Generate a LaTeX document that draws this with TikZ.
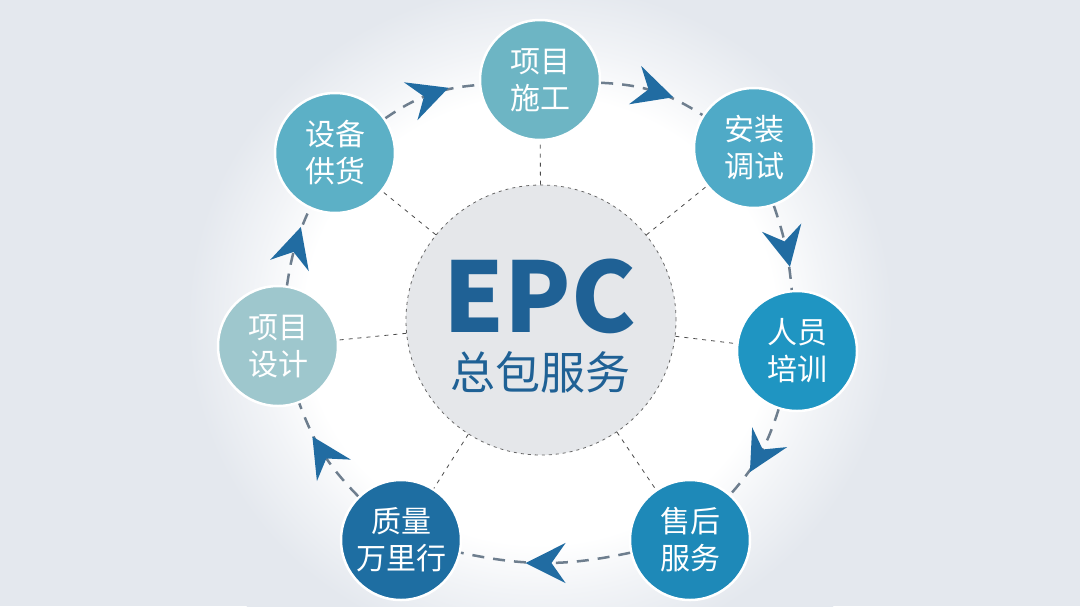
\documentclass[tikz,border=0pt]{standalone}
\usepackage{fontspec}
\newfontfamily\cjk{Noto Sans CJK SC}
\usetikzlibrary{arrows.meta,decorations.markings}
\definecolor{bgc}{HTML}{E4E8EE}
\definecolor{midc}{HTML}{F2F4F7}
\definecolor{c1}{HTML}{6DB5C4}
\definecolor{c2}{HTML}{4FAAC7}
\definecolor{c3}{HTML}{1F95C2}
\definecolor{c4}{HTML}{1E89B8}
\definecolor{c5}{HTML}{1E6EA2}
\definecolor{c6}{HTML}{9EC7CD}
\definecolor{c7}{HTML}{5CB0C6}
\definecolor{arrowc}{HTML}{216CA2}
\definecolor{orbitc}{HTML}{6E7E8E}
\definecolor{epcc}{HTML}{1F6195}
\definecolor{centc}{HTML}{E5E7EA}
\pgfdeclareradialshading{glow}{\pgfpoint{0bp}{0bp}}{color(0bp)=(white); color(14bp)=(white); color(17bp)=(midc); color(21bp)=(bgc); color(50bp)=(bgc)}
\tikzset{
  sat/.style={circle, minimum size=120pt, inner sep=0pt, draw=white, line width=2.5pt,
    text=white, align=center, font=\cjk\fontsize{30}{37}\selectfont},
  orbit/.style={draw=orbitc, line width=2.5pt, dash pattern=on 12pt off 9pt,
    postaction={decorate},
    decoration={markings, mark=at position 0.5 with {\arrow[xshift=20pt]{Stealth[length=40pt,width=40pt,inset=14pt,color=arrowc]}}}},
  spoke/.style={draw=black!70, line width=0.8pt, dash pattern=on 4pt off 5pt},
}
\begin{document}
\begin{tikzpicture}[x=1pt,y=-1pt]
\useasboundingbox (0,0) rectangle (1080,606);
\fill[bgc] (0,0) rectangle (1080,606);
\begin{scope}
\clip (0,0) rectangle (1080,606);
\shade[shading=glow] (540,320) ellipse [x radius=420, y radius=400];
\end{scope}
% center
\node[circle, minimum size=270pt, inner sep=0pt, fill=centc, draw=black!60, line width=0.8pt, dash pattern=on 3pt off 4pt] (c) at (541,320) {};
\node[text=epcc, font=\cjk\bfseries\fontsize{97}{97}\selectfont] (epc) at (540,296) {EPC};
\node[text=epcc, font=\cjk\fontsize{45}{45}\selectfont] (zb) at (540,372) {总包服务};
% satellites
\node[sat, fill=c1] (s1) at (540,80) {项目\\施工};
\node[sat, fill=c2] (s2) at (754,148) {安装\\调试};
\node[sat, fill=c3] (s3) at (797,351) {人员\\培训};
\node[sat, fill=c4] (s4) at (690,540) {售后\\服务};
\node[sat, fill=c5] (s5) at (401,540) {质量\\万里行};
\node[sat, fill=c6] (s6) at (278,346) {项目\\设计};
\node[sat, fill=c7] (s7) at (335,153) {设备\\供货};
% spokes
\foreach \s in {s1,s2,s3,s4,s5,s6,s7} \draw[spoke] (c) -- (\s);
% orbit
\draw[orbit] (s6) to[bend left=8] (s7);
\draw[orbit] (s7) to[bend left=15] (s1);
\draw[orbit] (s1) to[bend left=15] (s2);
\draw[orbit] (s2) to[bend left=7] (s3);
\draw[orbit] (s3) to[bend left=12] (s4);
\draw[orbit] (s4) to[bend left=12] (s5);
\draw[orbit] (s5) to[bend left=12] (s6);
\end{tikzpicture}
\end{document}
